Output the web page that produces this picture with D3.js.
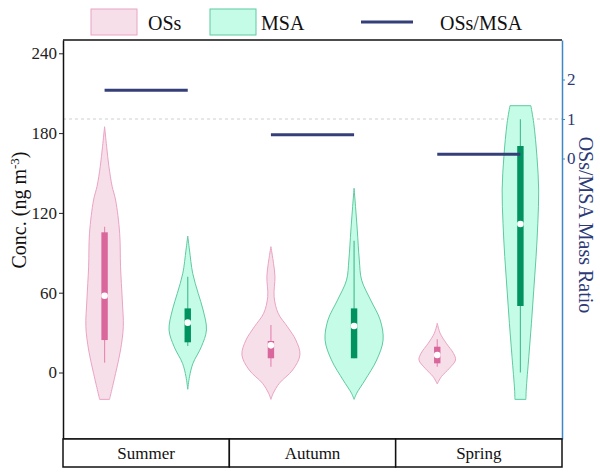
<!DOCTYPE html>
<html><head><meta charset="utf-8">
<script src="https://cdn.jsdelivr.net/npm/d3@7"></script>
<style>body{margin:0;background:#fff}svg{display:block}</style>
</head><body>
<svg id="c" width="600" height="476"></svg>
<script>
const categories = ["Summer", "Autumn", "Spring"];
const species = ["OSs", "MSA"];
const ratioValues = [1.73, 0.60, 0.11];
const leftTicks = [0, 60, 120, 180, 240];
const rightTicks = [0, 1, 2];
// box stats per season: [whiskerLow, q1, median, q3, whiskerHigh]
const ossBox = [[7.4, 24.4, 57.7, 105.4, 109.6], [4.4, 10.7, 20.4, 23.7, 35.7], [4.4, 6.9, 13.2, 19.4, 25]];
const msaBox = [[19.9, 22.7, 37.5, 48.2, 72], [10.7, 10.7, 35, 48.2, 99.1], [0, 50, 111.7, 170.3, 190.4]];
// violin profiles: [value, relative density]
const ossViolin = [
  [[184.8,0],[170,0.07],[154.7,0.15],[140,0.26],[129.7,0.38],[104.7,0.52],[79.5,0.55],[54.5,0.61],[34.4,0.645],[16.9,0.55],[-0.6,0.38],[-20.2,0.17]],
  [[94.6,0],[82.1,0.09],[72,0.14],[57,0.11],[44.5,0.25],[34.4,0.57],[24.4,0.86],[13.2,1.0],[1.9,0.75],[-8.1,0.29],[-15.6,0.08],[-20.2,0]],
  [[37,0],[29.5,0.1],[22,0.31],[14.4,0.56],[9.4,0.63],[3.2,0.42],[-3.2,0.14],[-8.6,0]]
];
const msaViolin = [
  [[102.6,0],[92.1,0.06],[74.6,0.17],[59.5,0.36],[47,0.53],[32,0.645],[19.4,0.47],[6.9,0.18],[-3.2,0.06],[-12.6,0]],
  [[138.5,0],[124.7,0.05],[107.1,0.11],[84.6,0.18],[69.5,0.26],[54.5,0.57],[39.5,0.9],[24.4,1.0],[9.4,0.78],[-5.6,0.38],[-15.6,0.09],[-20.2,0]],
  [[200.6,0.36],[187.4,0.46],[162.3,0.57],[137.2,0.63],[112.2,0.6],[87.1,0.54],[62,0.46],[37,0.38],[11.9,0.29],[-13.2,0.2],[-20.2,0.19]]
];

const W = 600, H = 476;
const L = 63, R = 562, T = 40, B = 439, CB = 467;
const svg = d3.select("#c");
const font = "'Liberation Serif','Times New Roman',serif";

const x = d3.scaleBand().domain(categories).range([L, R]);
const xs = d3.scaleBand().domain(species).range([0, x.bandwidth()]);
const y = d3.scaleLinear().domain([-50, 250]).range([B, T]);
const yr = d3.scaleLinear().domain([-7.1, 3]).range([B, T]);
const wScale = d3.scaleLinear().domain([0, 1]).range([0, 29]);

const style = {
  OSs: {fill: "#f7dfe9", stroke: "#eaa3c4", box: "#d9679c", whisk: "#e58cb5"},
  MSA: {fill: "#c4fce7", stroke: "#5fcaa0", box: "#00935f", whisk: "#4dbf93"}
};

// dashed reference line at ratio 1
svg.append("line").attr("x1", L).attr("x2", R).attr("y1", yr(1)).attr("y2", yr(1))
  .attr("stroke", "#cfcfcf").attr("stroke-dasharray", "3,3").attr("stroke-width", 1);

const area = d3.area().y(d => y(d[0])).curve(d3.curveCatmullRom.alpha(0.5));

categories.forEach((cat, i) => {
  species.forEach(sp => {
    const cx = x(cat) + xs(sp) + xs.bandwidth() / 2;
    const prof = sp === "OSs" ? ossViolin[i] : msaViolin[i];
    const bx = sp === "OSs" ? ossBox[i] : msaBox[i];
    const st = style[sp];
    svg.append("path").datum(prof)
      .attr("d", area.x0(d => cx - wScale(d[1])).x1(d => cx + wScale(d[1])))
      .attr("fill", st.fill).attr("stroke", st.stroke).attr("stroke-width", 1);
    svg.append("line").attr("x1", cx).attr("x2", cx).attr("y1", y(bx[0])).attr("y2", y(bx[4]))
      .attr("stroke", st.whisk).attr("stroke-width", 1.2);
    svg.append("rect").attr("x", cx - 3.2).attr("width", 6.4)
      .attr("y", y(bx[3])).attr("height", y(bx[1]) - y(bx[3]))
      .attr("fill", st.box);
    svg.append("circle").attr("cx", cx).attr("cy", y(bx[2])).attr("r", 3.3).attr("fill", "#fff");
  });
});

// ratio lines
categories.forEach((cat, i) => {
  const x1 = x(cat) + xs("OSs") + xs.bandwidth() / 2;
  const x2 = x(cat) + xs("MSA") + xs.bandwidth() / 2;
  svg.append("line").attr("x1", x1).attr("x2", x2).attr("y1", yr(ratioValues[i])).attr("y2", yr(ratioValues[i]))
    .attr("stroke", "#343f7a").attr("stroke-width", 3);
});

// frame top and bottom
svg.append("line").attr("x1", L).attr("x2", R).attr("y1", T).attr("y2", T).attr("stroke", "#111").attr("stroke-width", 1.5);
svg.append("line").attr("x1", L).attr("x2", R).attr("y1", B).attr("y2", B).attr("stroke", "#111").attr("stroke-width", 1.5);

// left axis
const gl = svg.append("g").attr("transform", `translate(${L},0)`)
  .call(d3.axisLeft(y).tickValues(leftTicks).tickSize(4).tickPadding(2).tickSizeOuter(0));
gl.select(".domain").attr("stroke", "#111").attr("stroke-width", 1.5);
gl.selectAll(".tick line").attr("stroke", "#222");
gl.selectAll("text").attr("font-family", font).attr("font-size", 17).attr("fill", "#222");

// right axis
const axColor = "#3d87c6", navy = "#2d3a78";
const gr = svg.append("g").attr("transform", `translate(${R},0)`)
  .call(d3.axisRight(yr).tickValues(rightTicks).tickSize(3).tickPadding(2).tickSizeOuter(0));
gr.select(".domain").attr("stroke", axColor).attr("stroke-width", 1.5);
gr.selectAll(".tick line").attr("stroke", axColor);
gr.selectAll("text").attr("font-family", font).attr("font-size", 17).attr("fill", navy);

// axis titles
const lt = svg.append("text").attr("transform", "translate(26,210) rotate(-90)")
  .attr("text-anchor", "middle").attr("font-family", font).attr("font-size", 20).attr("fill", "#111");
lt.append("tspan").text("Conc. (ng m");
lt.append("tspan").attr("baseline-shift", "super").attr("font-size", 13).text("-3");
lt.append("tspan").text(")");

svg.append("text").attr("transform", "translate(579,225) rotate(90)")
  .attr("text-anchor", "middle").attr("font-family", font).attr("font-size", 20).attr("fill", navy)
  .text("OSs/MSA Mass Ratio");

// category band
categories.forEach(cat => {
  svg.append("rect").attr("x", x(cat)).attr("y", B).attr("width", x.bandwidth()).attr("height", CB - B)
    .attr("fill", "#fff").attr("stroke", "#111").attr("stroke-width", 1.5);
  svg.append("text").attr("x", x(cat) + x.bandwidth() / 2).attr("y", 459)
    .attr("text-anchor", "middle").attr("font-family", font).attr("font-size", 17).attr("fill", "#111").text(cat);
});

// legend
const lg = svg.append("g");
lg.append("rect").attr("x", 91).attr("y", 9).attr("width", 46).attr("height", 26)
  .attr("fill", style.OSs.fill).attr("stroke", style.OSs.stroke);
lg.append("text").attr("x", 148).attr("y", 30).attr("font-family", font).attr("font-size", 20).attr("fill", "#111").text("OSs");
lg.append("rect").attr("x", 210).attr("y", 9).attr("width", 46).attr("height", 26)
  .attr("fill", style.MSA.fill).attr("stroke", style.MSA.stroke);
lg.append("text").attr("x", 261).attr("y", 30).attr("font-family", font).attr("font-size", 20).attr("fill", "#111").text("MSA");
lg.append("line").attr("x1", 361).attr("x2", 413).attr("y1", 22).attr("y2", 22).attr("stroke", "#343f7a").attr("stroke-width", 3);
lg.append("text").attr("x", 440).attr("y", 30).attr("font-family", font).attr("font-size", 20).attr("fill", "#111").text("OSs/MSA");
</script>
</body></html>
